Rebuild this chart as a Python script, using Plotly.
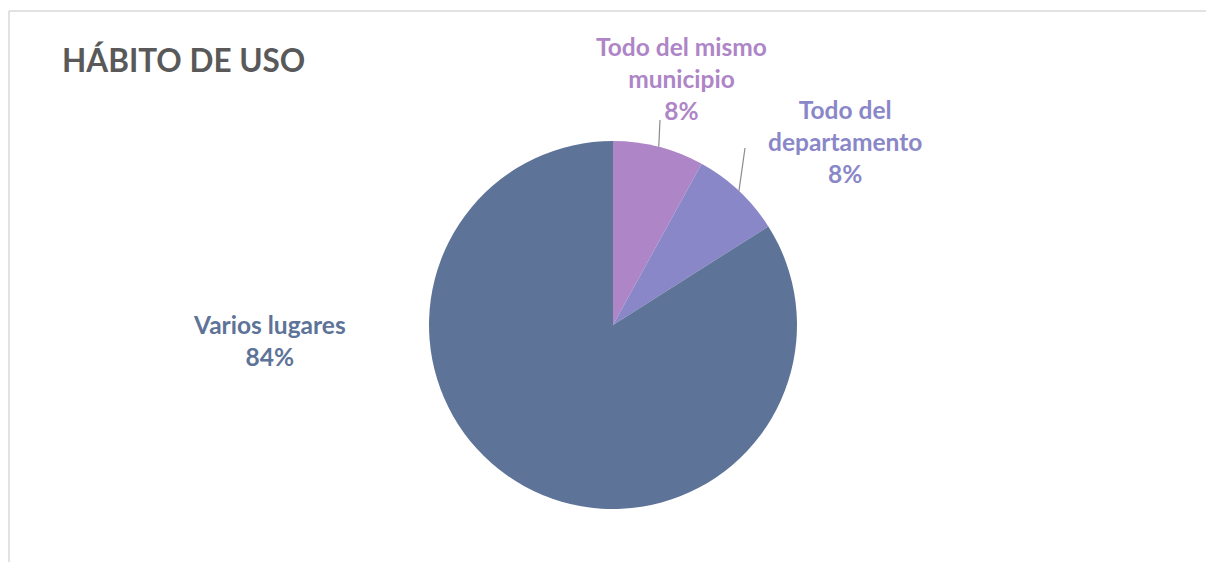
import math
import plotly.graph_objects as go

W, H = 1206, 562

title_text = "HÁBITO DE USO"
labels = ["Todo del mismo<br>municipio", "Todo del<br>departamento", "Varios lugares"]
values = [8, 8, 84]
colors = ["#AE85C6", "#8A87C8", "#5E7398"]

# layout geometry (pixels)
cx, cy, R = 613, 325, 184
label_pos = [(681, 79), (845, 141), (269, 340)]
leader_outer = [(660, 120), (745, 148), None]


def px(x):
    return x / W


def py(y):
    return 1 - y / H


fig = go.Figure(go.Pie(
    labels=[l.replace("<br>", " ") for l in labels],
    values=values,
    marker=dict(colors=colors, line=dict(width=0)),
    sort=False,
    direction="clockwise",
    rotation=0,
    textinfo="none",
    hoverinfo="label+percent",
    domain=dict(x=[px(cx - R), px(cx + R)], y=[py(cy + R), py(cy - R)]),
    showlegend=False,
))

total = sum(values)
annotations = [dict(
    x=px(60), y=py(60), xref="paper", yref="paper", xanchor="left", yanchor="middle",
    text="<b>%s</b>" % title_text, showarrow=False,
    font=dict(family="Lato, Open Sans, sans-serif", size=31.5, color="#595959"),
)]
shapes = []
cum = 0
for lab, v, col, (lx, ly), outer in zip(labels, values, colors, label_pos, leader_outer):
    pct = round(100 * v / total)
    annotations.append(dict(
        x=px(lx), y=py(ly), xref="paper", yref="paper", xanchor="center", yanchor="middle",
        text="<b>%s<br>%d%%</b>" % (lab, pct), showarrow=False, align="center",
        font=dict(family="Lato, Open Sans, sans-serif", size=24.5, color=col),
    ))
    mid = (cum + v / 2) / total * 2 * math.pi
    cum += v
    if outer is not None:
        ix = cx + R * math.sin(mid)
        iy = cy - R * math.cos(mid)
        shapes.append(dict(type="line", xref="paper", yref="paper",
                           x0=px(ix), y0=py(iy), x1=px(outer[0]), y1=py(outer[1]),
                           line=dict(color="#8C8C8C", width=1.2)))

# chart border (top and left edges visible)
shapes.append(dict(type="line", xref="paper", yref="paper", x0=px(9), y0=py(11), x1=1.0, y1=py(11),
                   line=dict(color="#D9D9D9", width=1.5)))
shapes.append(dict(type="line", xref="paper", yref="paper", x0=px(9), y0=py(11), x1=px(9), y1=0,
                   line=dict(color="#D9D9D9", width=1.5)))

fig.update_layout(
    width=W, height=H,
    margin=dict(l=0, r=0, t=0, b=0),
    paper_bgcolor="white", plot_bgcolor="white",
    annotations=annotations, shapes=shapes,
)

fig.write_html("out.html", config={"displayModeBar": False},
               post_script="document.body.style.margin='0';document.body.style.overflow='hidden';")
